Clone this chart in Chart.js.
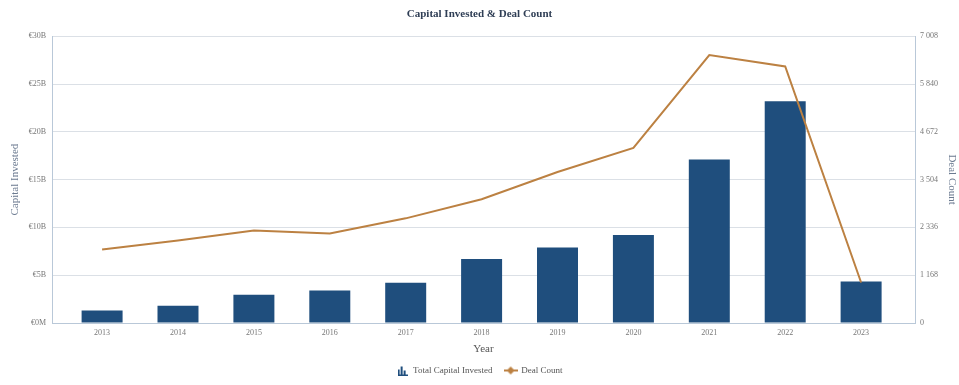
<!DOCTYPE html>
<html>
<head>
<meta charset="utf-8">
<script src="https://cdn.jsdelivr.net/npm/chart.js@4/dist/chart.umd.min.js"></script>
<style>
  html, body { margin: 0; padding: 0; background: #fff; }
  #wrap { width: 959px; height: 385px; position: relative; }
</style>
</head>
<body>
<div id="wrap"><canvas id="chart"></canvas></div>
<script>
'use strict';

// ── Data ──────────────────────────────────────────────────────────────────
const years      = ['2013','2014','2015','2016','2017','2018','2019','2020','2021','2022','2023'];
const capitalEUR = [1.3, 1.8, 2.95, 3.4, 4.2, 6.7, 7.9, 9.2, 17.1, 23.2, 4.35];   // € billions
const dealCount  = [1795, 2016, 2262, 2188, 2557, 3025, 3688, 4279, 6548, 6270, 990];
const leftTicks  = ['€0M', '€5B', '€10B', '€15B', '€20B', '€25B', '€30B'];
const rightTicks = ['0', '1 168', '2 336', '3 504', '4 672', '5 840', '7 008'];

const BAR   = '#1F4E7D';
const LINE  = '#BC8142';
const GRID  = '#dbe0e6';
const AXIS  = '#b9c8d8';
const SERIF = '"Liberation Serif", "DejaVu Serif", serif';

// small legend icons
function barIcon() {
  const c = document.createElement('canvas');
  c.width = 10; c.height = 10;
  const g = c.getContext('2d');
  g.fillStyle = BAR;
  g.fillRect(0, 4, 2, 6);
  g.fillRect(3, 1, 2, 9);
  g.fillRect(6, 5, 2, 5);
  g.fillRect(0, 9, 10, 1);
  return c;
}
function diamondIcon() {
  const c = document.createElement('canvas');
  c.width = 14; c.height = 10;
  const g = c.getContext('2d');
  g.fillStyle = LINE;
  g.fillRect(0, 4, 14, 2);
  g.beginPath();
  g.moveTo(7, 1); g.lineTo(11, 5); g.lineTo(7, 9); g.lineTo(3, 5); g.closePath();
  g.fill();
  return c;
}
const icons = [barIcon(), diamondIcon()];

const xy = arr => arr.map((v, i) => ({ x: i, y: v }));

new Chart(document.getElementById('chart'), {
  data: {
    datasets: [
      {
        type: 'line', label: 'Deal Count', data: xy(dealCount), yAxisID: 'y1',
        borderColor: LINE, backgroundColor: LINE, borderWidth: 2,
        pointRadius: 0, tension: 0, order: 0
      },
      {
        type: 'bar', label: 'Total Capital Invested', data: xy(capitalEUR), yAxisID: 'y',
        backgroundColor: BAR, borderWidth: 0,
        barPercentage: 0.54, categoryPercentage: 1, order: 1
      }
    ]
  },
  options: {
    responsive: true,
    maintainAspectRatio: false,
    animation: false,
    layout: { padding: 0 },
    plugins: {
      title: {
        display: true, text: 'Capital Invested & Deal Count',
        color: '#2f3e55', font: { family: SERIF, size: 11, weight: 'bold' },
        padding: { top: 8, bottom: 15 }
      },
      legend: {
        position: 'bottom',
        labels: {
          usePointStyle: true, pointStyleWidth: 12,
          color: '#555', font: { family: SERIF, size: 9 }, padding: 10,
          generateLabels: chart => ['Total Capital Invested ', 'Deal Count'].map((t, i) => ({
            text: t, pointStyle: icons[i], fontColor: '#555',
            datasetIndex: i === 0 ? 1 : 0, hidden: false, lineWidth: 0
          }))
        }
      },
      tooltip: { enabled: false }
    },
    scales: {
      x: {
        type: 'linear', min: -0.66, max: 10.71, offset: false,
        grid: { display: false, drawTicks: false, offset: false },
        border: { color: AXIS },
        ticks: {
          stepSize: 1, includeBounds: false, autoSkip: false, maxRotation: 0,
          color: '#777', font: { family: SERIF, size: 8 }, padding: 5,
          callback: v => (Number.isInteger(v) && years[v]) ? years[v] : ''
        },
        title: {
          display: true, text: 'Year', color: '#555',
          font: { family: SERIF, size: 11 }, padding: { top: 4, bottom: 0 }
        },
        afterFit: s => { s.height = 33; }
      },
      y: {
        position: 'left', min: 0, max: 30,
        grid: { color: GRID, drawTicks: false },
        border: { color: AXIS },
        ticks: {
          stepSize: 5, color: '#777', font: { family: SERIF, size: 8 }, padding: 6,
          callback: (v, i) => leftTicks[i]
        },
        title: {
          display: true, text: 'Capital Invested', color: '#6b7a90',
          font: { family: SERIF, size: 11 }, padding: { top: 9, bottom: 0 }
        },
        afterFit: s => { s.width = 52; }
      },
      y1: {
        position: 'right', min: 0, max: 7008,
        grid: { display: false, drawTicks: false },
        border: { color: AXIS },
        ticks: {
          stepSize: 1168, color: '#777', font: { family: SERIF, size: 8 }, padding: 5,
          callback: (v, i) => rightTicks[i]
        },
        title: {
          display: true, text: 'Deal Count', color: '#6b7a90',
          font: { family: SERIF, size: 11 }, padding: { top: 1, bottom: 0 }
        },
        afterFit: s => { s.width = 44; }
      }
    }
  }
});
</script>
</body>
</html>
